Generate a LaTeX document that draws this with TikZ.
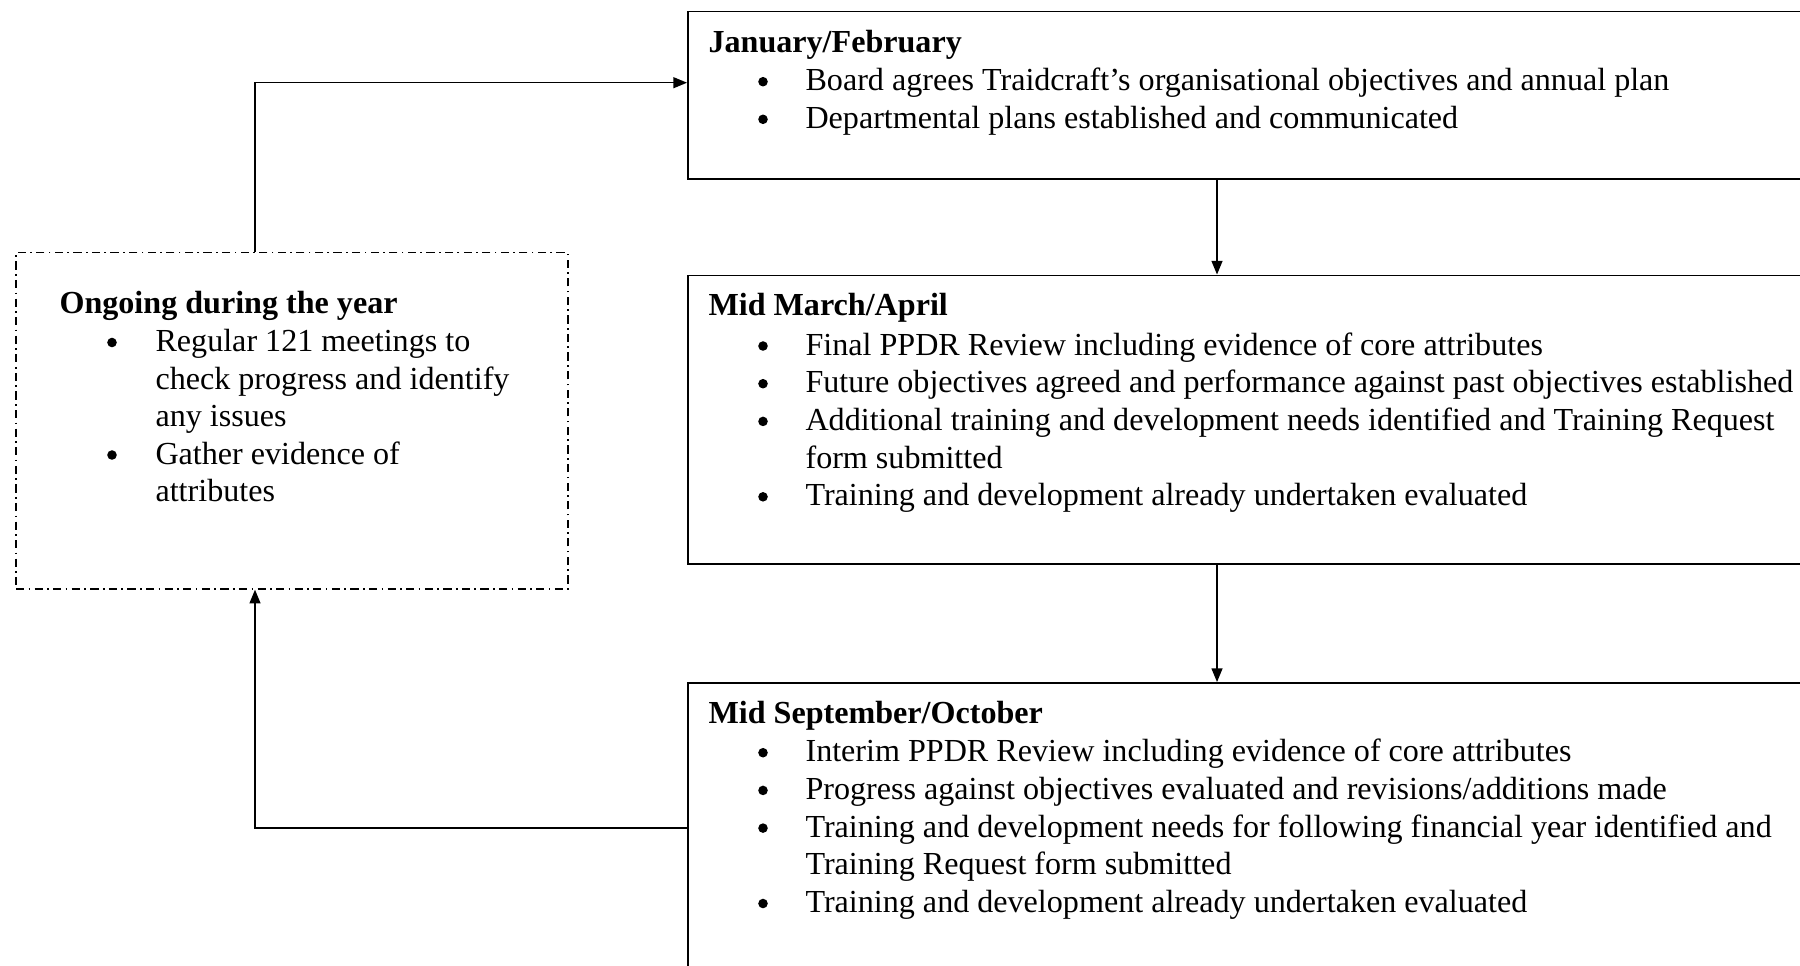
\documentclass[tikz,border=0pt]{standalone}
\usepackage{fontspec}
\setmainfont{Liberation Serif}
\usetikzlibrary{arrows.meta,fit}
\begin{document}
\begin{tikzpicture}[x=0.366pt,y=-0.366pt,
  box/.style={draw,line width=0.7pt,inner sep=0pt},
  dbox/.style={draw,line width=0.5pt,inner sep=0pt,dash pattern=on 3pt off 1.6pt on 0.6pt off 1.6pt},
  arr/.style={line width=0.5pt,-{Triangle[length=5pt,width=4pt]}},
  txt/.style={anchor=base west,inner sep=0pt,font=\fontsize{11.75}{14}\selectfont},
  head/.style={anchor=base west,inner sep=0pt,font=\fontsize{11.75}{14}\selectfont\bfseries},
  dot/.style={circle,fill=black,inner sep=0pt,minimum size=3.5pt}]
\useasboundingbox (0,0) rectangle (1800,965);
% boxes
\node[box,fit={(688,11.5) (1815,179)}] (jan) {};
\node[box,fit={(688,275.5) (1815,564)}] (mar) {};
\node[box,fit={(688,683) (1815,980)}] (sep) {};
\node[dbox,fit={(16,252.6) (568,589)}] (ong) {};
% connector coordinates
\coordinate (c1) at (255,82.7);
\coordinate (c2) at (255,828);
\coordinate (cx) at (1217,0);
\draw[arr] (ong.north -| c1) |- (c1 -| jan.west);
\draw[arr] (jan.south -| cx) -- (mar.north -| cx);
\draw[arr] (mar.south -| cx) -- (sep.north -| cx);
\draw[arr] (c2 -| sep.west) -| (ong.south -| c2);
% left box text
\node[head] (oh) at (59,313.3) {Ongoing during the year};
\node[dot] (ob1) at (112,342.5) {};
\node[txt] (o1) at (155,351.5) {Regular 121 meetings to};
\node[txt] (o2) at (155,389) {check progress and identify};
\node[txt] (o3) at (155,426.5) {any issues};
\node[dot] (ob2) at (112,455) {};
\node[txt] (o4) at (155,464) {Gather evidence of};
\node[txt] (o5) at (155,501.5) {attributes};
% January/February
\node[head] (jh) at (708,52.7) {January/February};
\node[dot] (jb1) at (763,81.7) {};
\node[txt] (j1) at (805,90.7) {Board agrees Traidcraft’s organisational objectives and annual plan};
\node[dot] (jb2) at (763,119.3) {};
\node[txt] (j2) at (805,128.3) {Departmental plans established and communicated};
% Mid March/April
\node[head] (mh) at (708,315) {Mid March/April};
\node[dot] (mb1) at (763,346) {};
\node[txt] (m1) at (805,355) {Final PPDR Review including evidence of core attributes};
\node[dot] (mb2) at (763,383.7) {};
\node[txt] (m2) at (805,392.7) {Future objectives agreed and performance against past objectives established};
\node[dot] (mb3) at (763,421.4) {};
\node[txt] (m3) at (805,430.4) {Additional training and development needs identified and Training Request};
\node[txt] (m4) at (805,468.1) {form submitted};
\node[dot] (mb4) at (763,496.8) {};
\node[txt] (m5) at (805,505.8) {Training and development already undertaken evaluated};
% Mid September/October
\node[head] (sh) at (708,723.3) {Mid September/October};
\node[dot] (sb1) at (763,752.7) {};
\node[txt] (s1) at (805,761.7) {Interim PPDR Review including evidence of core attributes};
\node[dot] (sb2) at (763,790.4) {};
\node[txt] (s2) at (805,799.4) {Progress against objectives evaluated and revisions/additions made};
\node[dot] (sb3) at (763,828.1) {};
\node[txt] (s3) at (805,837.1) {Training and development needs for following financial year identified and};
\node[txt] (s4) at (805,874.8) {Training Request form submitted};
\node[dot] (sb4) at (763,903.5) {};
\node[txt] (s5) at (805,912.5) {Training and development already undertaken evaluated};
\end{tikzpicture}
\end{document}
